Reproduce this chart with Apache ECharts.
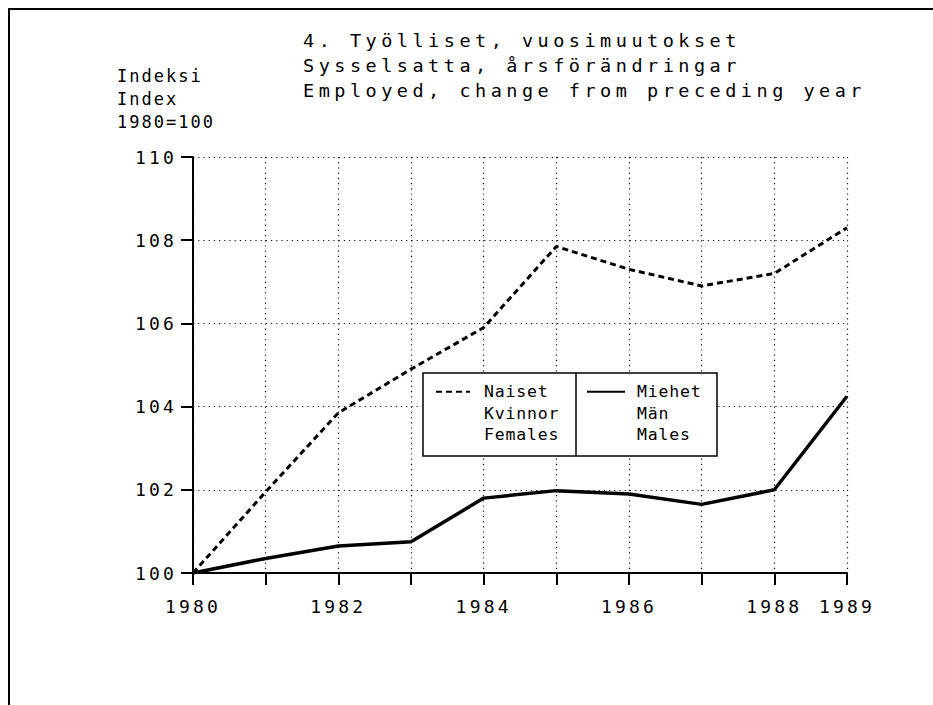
<!DOCTYPE html>
<html>
<head>
<meta charset="utf-8">
<title>Työlliset, vuosimuutokset</title>
<script src="https://cdn.jsdelivr.net/npm/echarts@6/dist/echarts.min.js"></script>
<style>
html, body { margin: 0; padding: 0; background: #fff; }
#chart { width: 933px; height: 705px; }
/* the original typewriter-like lettering is widely spaced */
#chart text[style*="18.5px"] { letter-spacing: 4.5px; }
#chart text[style*="18px"] { letter-spacing: 3.2px; }
#chart text[style*="17px"] { letter-spacing: 2px; }
#chart text[style*="16.5px"] { letter-spacing: 0.8px; }
</style>
</head>
<body>
<div id="chart"></div>
<script>
// vuodet / years
const years = [1980, 1981, 1982, 1983, 1984, 1985, 1986, 1987, 1988, 1989];
// Naiset (Kvinnor, Females), 1980 = 100
const naiset = [100, 101.95, 103.85, 104.9, 105.9, 107.85, 107.3, 106.9, 107.2, 108.3];
// Miehet (Män, Males), 1980 = 100
const miehet = [100, 100.35, 100.65, 100.75, 101.8, 101.98, 101.9, 101.65, 102.0, 104.25];

const xLabels = [1980, 1982, 1984, 1986, 1988, 1989];
const yTicks = [100, 102, 104, 106, 108, 110];

const titleLines = ['4. Työlliset, vuosimuutokset', 'Sysselsatta, årsförändringar', 'Employed, change from preceding year'];
const unitLines = ['Indeksi', 'Index', '1980=100'];
const legendText = {
	'Naiset': ['Naiset', 'Kvinnor', 'Females'],
	'Miehet': ['Miehet', 'Män', 'Males']
};

const FONT = 'DejaVu Sans Mono';
const LH = 21.5;

function pairs(vals) {
	return years.map(function (y, i) { return [y, vals[i]]; });
}

const chart = echarts.init(document.getElementById('chart'), null, { renderer: 'svg' });

//legend: one per series, so the box can be split in two.
//two blank lines first, so the first name sits level with the line sample
function legendFor(name, left, iconW, padLeft) {
	return {
		data: [name],
		left: left,
		top: 338,
		orient: 'vertical',
		padding: 0,
		itemWidth: iconW,
		itemHeight: 14,
		selectedMode: false,
		z: 5,
		itemStyle: { opacity: 0 },
		formatter: function (n) { return '\n\n' + legendText[n].join('\n'); },
		textStyle: {
			color: '#000',
			fontFamily: FONT,
			fontSize: 16.5,
			lineHeight: LH,
			padding: [0, 0, 0, padLeft]
		}
	};
}

const option = {
	backgroundColor: '#fff',
	animation: false,
	title: [{
		text: titleLines.join('\n'),
		left: 303,
		top: 28,
		padding: 0,
		textStyle: { color: '#000', fontFamily: FONT, fontSize: 18.5, fontWeight: 'normal', lineHeight: 25 }
	}, {
		text: unitLines.join('\n'),
		left: 117,
		top: 64,
		padding: 0,
		textStyle: { color: '#000', fontFamily: FONT, fontSize: 17, fontWeight: 'normal', lineHeight: 23 }
	}],
	legend: [
		legendFor('Naiset', 435, 34, 9),
		legendFor('Miehet', 586, 38, 7)
	],
	grid: { left: 193, right: 86, top: 157, bottom: 132 },
	xAxis: {
		type: 'value',
		min: 1980,
		max: 1989,
		interval: 1,
		axisLine: { lineStyle: { color: '#000', width: 2 } },
		axisTick: { show: true, inside: false, length: 12, lineStyle: { color: '#000', width: 2 } },
		axisLabel: {
			margin: 24,
			color: '#000',
			fontFamily: FONT,
			fontSize: 18,
			formatter: function (v) { return xLabels.indexOf(v) >= 0 ? String(v) : ''; }
		},
		splitLine: { show: true, lineStyle: { color: '#111', width: 1.2, type: [1.2, 4] } }
	},
	yAxis: {
		type: 'value',
		min: yTicks[0],
		max: yTicks[yTicks.length - 1],
		interval: 2,
		axisLine: { show: true, lineStyle: { color: '#000', width: 2 } },
		axisTick: { show: true, inside: false, length: 12, lineStyle: { color: '#000', width: 2 } },
		axisLabel: { margin: 16, color: '#000', fontFamily: FONT, fontSize: 18 },
		splitLine: { show: true, lineStyle: { color: '#111', width: 1.2, type: [1.2, 4] } }
	},
	graphic: [
		//page frame
		{ type: 'polyline', z: 1, shape: { points: [[9, 705], [9, 9], [933, 9]] }, style: { stroke: '#000', lineWidth: 2, fill: null } },
		//legend box
		{ type: 'rect', z: 3, shape: { x: 423, y: 373, width: 294, height: 83 }, style: { fill: '#fff', stroke: '#000', lineWidth: 1.5 } },
		{ type: 'line', z: 3, shape: { x1: 576, y1: 373, x2: 576, y2: 456 }, style: { stroke: '#000', lineWidth: 1.5 } }
	],
	series: [{
		name: 'Naiset',
		type: 'line',
		data: pairs(naiset),
		symbol: 'none',
		lineStyle: { color: '#000', width: 3, type: [6, 4] },
		itemStyle: { color: '#000' }
	}, {
		name: 'Miehet',
		type: 'line',
		data: pairs(miehet),
		symbol: 'none',
		lineStyle: { color: '#000', width: 3.5, type: 'solid' },
		itemStyle: { color: '#000' }
	}]
};

chart.setOption(option);
</script>
</body>
</html>
